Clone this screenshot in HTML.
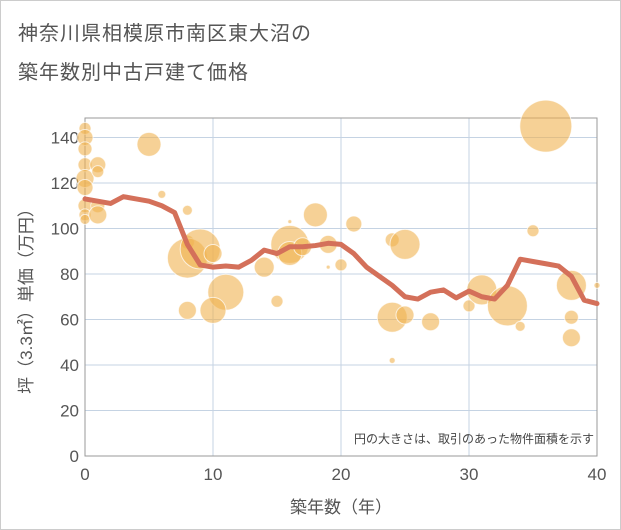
<!DOCTYPE html>
<html><head><meta charset="utf-8">
<style>
body{margin:0;background:#fff;}
#wrap{width:619px;height:528px;border:1px solid #ccc;position:relative;overflow:hidden;font-family:"Liberation Sans","Noto Sans CJK JP",sans-serif;}
.title{position:absolute;left:17px;font-size:20px;color:#555;letter-spacing:1px;}
</style></head><body>
<div id="wrap">
<div class="title" style="top:16px">神奈川県相模原市南区東大沼の</div>
<div class="title" style="top:55px">築年数別中古戸建て価格</div>
<svg id="chart" width="621" height="530" style="position:absolute;left:-1px;top:-1px"></svg>
</div>
<script>
const xTicks=[0,10,20,30,40];
const yTicks=[0,20,40,60,80,100,120,140];
const lineX=[0,1,2,3,4,5,6,7,8,9,10,11,12,13,14,15,16,17,18,19,20,21,22,23,24,25,26,27,28,29,30,31,32,33,34,35,36,37,38,39,40];
const lineY=[113,112,111,114,113,112,110,107,93,84,83,83.5,83,86,90.5,89,92,92,92.5,93.5,93,89,83,79,75,70,69,72,73,69.5,72.5,70,69,75,86.5,85.5,84.5,83.5,79,68.5,67];
const bubX=[0,0,0,0,0,0,0,0,0,1,1,1,1,5,6,8,8,8,9,10,11,10,8,14,15,16,16,17,16,18,19,19,20,21,24,25,24,25,24,27,30,31,33,34,35,36,38,38,38,40];
const bubY=[144,140,135,128,122,118,110,106,104,128,125,110,106,137,115,108,94,87,91,89,72,64,64,83,68,93,89,92,103,106,93,83,84,102,95,93,61,62,42,59,66,73,66,57,99,145,75,61,52,75];
const bubR=[6,8,7,7,9,8,7,6,5,8,6,7,9,12,4,5,7,20,20,9,18,13,9,10,6,19,12,9,2,12,9,2,6,8,7,15,15,9,3,9,6,15,20,5,6,26,15,7,9,3];
const NS='http://www.w3.org/2000/svg';
const svg=document.getElementById('chart');
const L=85,R=597,T=118,B=456;
const sx=v=>L+(v-0)/40*(R-L);
const sy=v=>B-v*2.275;
function mk(tag,attrs,parent){const e=document.createElementNS(NS,tag);for(const k in attrs)e.setAttribute(k,attrs[k]);(parent||svg).appendChild(e);return e;}
const grid=mk('g',{});


xTicks.forEach(t=>{const l=mk('line',{x1:sx(t),x2:sx(t),y1:T,y2:B,stroke:'#c5d3e3','stroke-width':1},grid);


const tx=mk('text',{x:sx(t),y:B+24,'text-anchor':'middle','font-size':17,fill:'#555'});tx.textContent=t;

});
yTicks.forEach(t=>{const l=mk('line',{x1:L,x2:R,y1:sy(t),y2:sy(t),stroke:'#c5d3e3','stroke-width':1},grid);


const tx=mk('text',{x:L-6,y:sy(t)+6,'text-anchor':'end','font-size':17,fill:'#555'});tx.textContent=t;

});
const frame=mk('rect',{x:L,y:T,width:R-L,height:B-T,fill:'none',stroke:'#999','stroke-width':1});


const bg=mk('g',{});


bubX.forEach((x,i)=>{const c=mk('circle',{cx:sx(x),cy:sy(bubY[i]),r:bubR[i],fill:'rgba(240,178,80,0.6)',stroke:'rgba(255,255,255,0.7)','stroke-width':1},bg);

});
const pts=lineX.map((x,i)=>sx(x)+','+sy(lineY[i])).join(' ');
const pl=mk('polyline',{points:pts,fill:'none',stroke:'#d4705a','stroke-width':5,'stroke-linejoin':'round','stroke-linecap':'round'});


const note=mk('text',{x:594,y:443,'text-anchor':'end','font-size':12,fill:'#444'});note.textContent='円の大きさは、取引のあった物件面積を示す';


const xl=mk('text',{x:341,y:513,'text-anchor':'middle','font-size':17,fill:'#555'});xl.textContent='築年数（年）';


const yl=mk('text',{x:0,y:0,'text-anchor':'middle','font-size':17,fill:'#555',transform:'translate(32,297) rotate(-90)'});yl.textContent='坪（3.3㎡）単価（万円）';


</script>
</body></html>
